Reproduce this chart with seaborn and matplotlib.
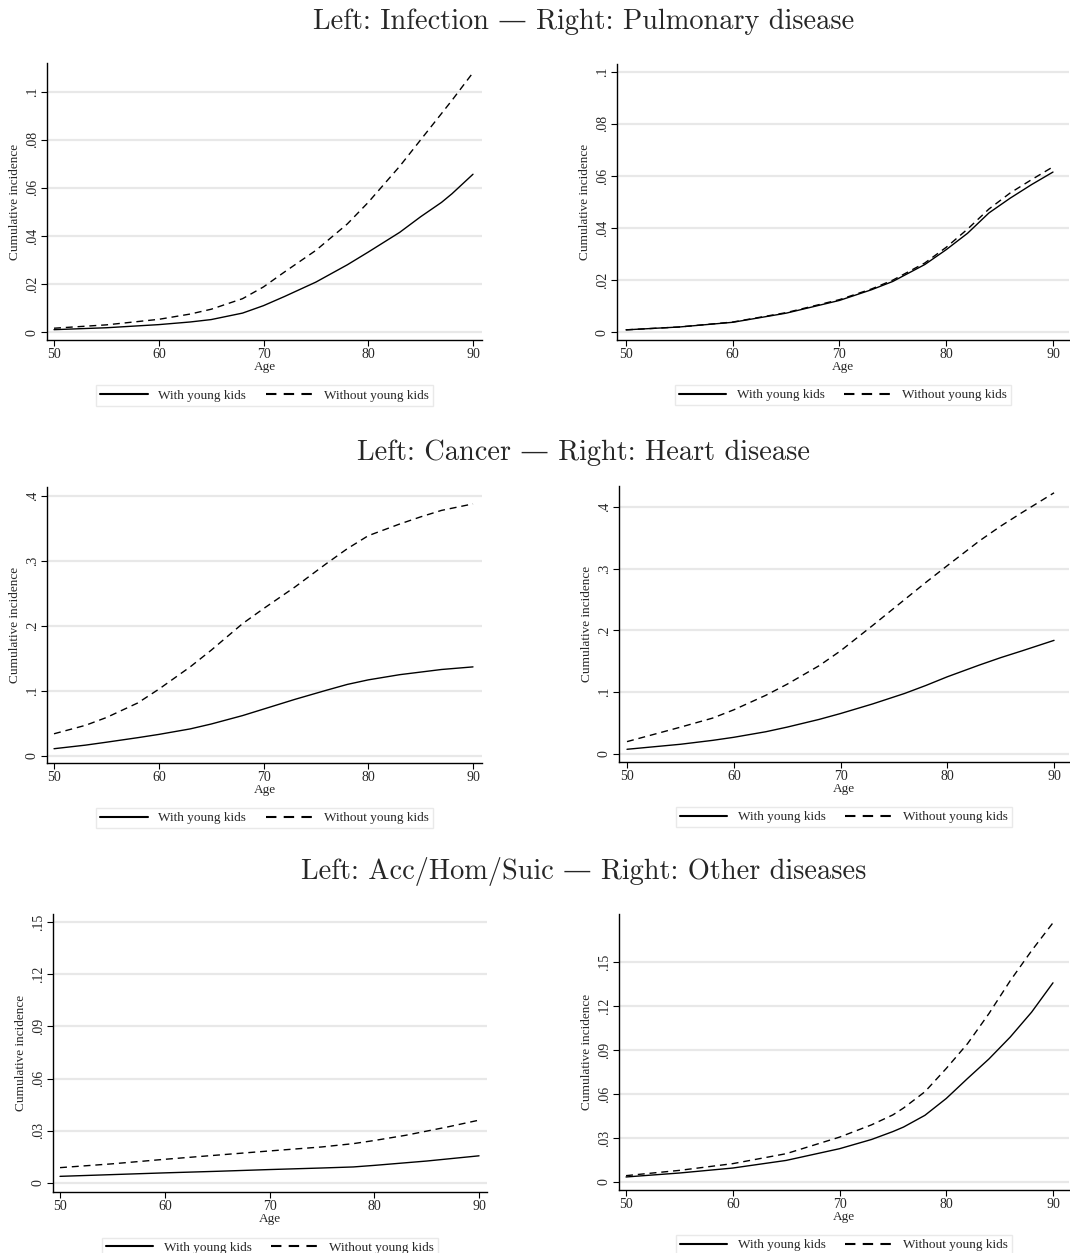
import numpy as np
import pandas as pd
import matplotlib
matplotlib.use('Agg')
import matplotlib.pyplot as plt
import seaborn as sns

# ---- data ----
groups = ['With young kids', 'Without young kids']

inf_age = [50, 55, 60, 63, 65, 68, 70, 72, 75, 78, 80, 83, 85, 87, 88, 90]
inf_with = [0.001, 0.0018, 0.0031, 0.0042, 0.0052, 0.0079, 0.0110, 0.0148, 0.0208, 0.0280, 0.0333, 0.0415, 0.0480, 0.0540, 0.0576, 0.0657]
inf_without = [0.0016, 0.0030, 0.0053, 0.0075, 0.0095, 0.0139, 0.0188, 0.0250, 0.0340, 0.0450, 0.0540, 0.0690, 0.0800, 0.0910, 0.0965, 0.1080]

pul_age = [50, 55, 60, 65, 70, 73, 75, 78, 80, 82, 84, 86, 88, 90]
pul_with = [0.0009, 0.0020, 0.0038, 0.0073, 0.0122, 0.0163, 0.0195, 0.0260, 0.0317, 0.0380, 0.0458, 0.0515, 0.0567, 0.0615]
pul_without = [0.0009, 0.0020, 0.0039, 0.0075, 0.0125, 0.0166, 0.0200, 0.0266, 0.0326, 0.0396, 0.0473, 0.0535, 0.0586, 0.0635]

can_age = [50, 53, 55, 58, 60, 63, 65, 68, 70, 73, 76, 78, 80, 83, 85, 87, 90]
can_with = [0.011, 0.0165, 0.021, 0.028, 0.033, 0.0415, 0.049, 0.062, 0.072, 0.087, 0.101, 0.110, 0.117, 0.125, 0.129, 0.133, 0.137]
can_without = [0.034, 0.047, 0.059, 0.0815, 0.1026, 0.137, 0.1626, 0.2036, 0.2267, 0.260, 0.296, 0.319, 0.339, 0.357, 0.368, 0.378, 0.388]

hrt_age = [50, 55, 58, 60, 63, 65, 68, 70, 73, 76, 78, 80, 83, 85, 87, 90]
hrt_with = [0.0076, 0.0157, 0.022, 0.027, 0.036, 0.0435, 0.0560, 0.0655, 0.081, 0.098, 0.111, 0.125, 0.144, 0.156, 0.167, 0.184]
hrt_without = [0.020, 0.0434, 0.058, 0.0715, 0.095, 0.113, 0.143, 0.167, 0.208, 0.250, 0.278, 0.305, 0.345, 0.369, 0.391, 0.423]

acc_age = [50, 55, 60, 65, 70, 75, 78, 80, 83, 85, 87, 90]
acc_with = [0.0038, 0.0048, 0.0058, 0.0067, 0.0077, 0.0086, 0.0092, 0.0101, 0.0116, 0.0126, 0.0138, 0.0156]
acc_without = [0.0088, 0.0110, 0.0136, 0.0160, 0.0184, 0.0207, 0.0226, 0.0244, 0.0274, 0.0298, 0.0322, 0.0361]

oth_age = [50, 55, 60, 65, 70, 73, 75, 76, 78, 80, 82, 84, 86, 88, 90]
oth_with = [0.0034, 0.0061, 0.0095, 0.0147, 0.0227, 0.0290, 0.0344, 0.0375, 0.0455, 0.0570, 0.0707, 0.0840, 0.0990, 0.1160, 0.1360]
oth_without = [0.0043, 0.0079, 0.0125, 0.0193, 0.0306, 0.0390, 0.0458, 0.0505, 0.0616, 0.0775, 0.0945, 0.1150, 0.1375, 0.1580, 0.1770]

titles = ['Left: Infection \u2014 Right: Pulmonary disease',
          'Left: Cancer \u2014 Right: Heart disease',
          'Left: Acc/Hom/Suic \u2014 Right: Other diseases']

ticks_a = [0, 0.02, 0.04, 0.06, 0.08, 0.1]
ticks_b = [0, 0.1, 0.2, 0.3, 0.4]
ticks_c = [0, 0.03, 0.06, 0.09, 0.12, 0.15]

panels = [
    (inf_age, inf_with, inf_without, ticks_a),
    (pul_age, pul_with, pul_without, ticks_a),
    (can_age, can_with, can_without, ticks_b),
    (hrt_age, hrt_with, hrt_without, ticks_b),
    (acc_age, acc_with, acc_without, ticks_c),
    (oth_age, oth_with, oth_without, ticks_c),
]

# ---- layout (pixels) ----
W, H = 1070, 1253
boxes = [(47, 482, 63, 340), (617, 1069, 64, 340),
         (47, 482, 487, 763), (619, 1069, 486, 762),
         (53, 487, 914, 1192), (619, 1069, 914, 1190)]
xlims = [(49.33, 90.86), (49.16, 91.5), (49.33, 90.86), (49.25, 91.4), (49.33, 90.76), (49.34, 91.5)]
ylims = [(-0.0033, 0.112), (-0.003, 0.103), (-0.011, 0.414), (-0.013, 0.434), (-0.0052, 0.1546), (-0.0055, 0.183)]
title_y = [22, 453, 872]

sns.set_style('white')
plt.rcParams['font.family'] = ['Liberation Serif', 'DejaVu Serif']
plt.rcParams['font.size'] = 9.5


def stata_fmt(v):
    s = f'{v:g}'
    if s.startswith('0.'):
        s = s[1:]
    return s


fig = plt.figure(figsize=(W / 100, H / 100), dpi=100)

for i, (age, yw, yo, yt) in enumerate(panels):
    l, r, t, b = boxes[i]
    ax = fig.add_axes([l / W, 1 - b / H, (r - l) / W, (b - t) / H])
    df = pd.DataFrame({
        'Age': list(age) * 2,
        'ci': list(yw) + list(yo),
        'grp': [groups[0]] * len(age) + [groups[1]] * len(age),
    })
    sns.lineplot(data=df, x='Age', y='ci', style='grp', style_order=groups,
                 dashes={groups[0]: '', groups[1]: (5, 3.5)},
                 color='black', linewidth=1.0, ax=ax, legend=True)
    ax.set_xlim(*xlims[i])
    ax.set_ylim(*ylims[i])
    ax.set_xticks([50, 60, 70, 80, 90])
    ax.set_yticks(yt)
    ax.set_yticklabels([stata_fmt(v) for v in yt], rotation=90, va='center')
    for v in yt:
        ax.axhline(v, color='#e8e8e8', linewidth=1.6, zorder=0)
    for s in ['top', 'right']:
        ax.spines[s].set_visible(False)
    for s in ['left', 'bottom']:
        ax.spines[s].set_color('black')
        ax.spines[s].set_linewidth(1.0)
    ax.tick_params(axis='both', direction='out', length=4, width=0.8,
                   color='black', labelsize=10, pad=2, left=True, bottom=True)
    ax.set_xlabel('Age', fontsize=9.5, labelpad=0)
    ax.set_ylabel('Cumulative incidence', fontsize=9.5, labelpad=3)
    handles, labels = ax.get_legend_handles_labels()
    leg = ax.legend(handles=handles, labels=labels, loc='upper center',
                    bbox_to_anchor=(0.5, -0.14), ncol=2, frameon=True,
                    fancybox=False, edgecolor='#e4e4e4', handlelength=3.6,
                    columnspacing=1.5, borderpad=0.3, handletextpad=0.8,
                    fontsize=9.5)
    for ln in leg.get_lines():
        ln.set_linewidth(1.5)

for k, ty in enumerate(title_y):
    fig.text(0.5 * (47 + 1069) / W + 0.024, 1 - ty / H, titles[k], ha='center', va='center',
             fontsize=20.4, family=['cmr10', 'DejaVu Serif'])

fig.savefig('out.png', dpi=100)
